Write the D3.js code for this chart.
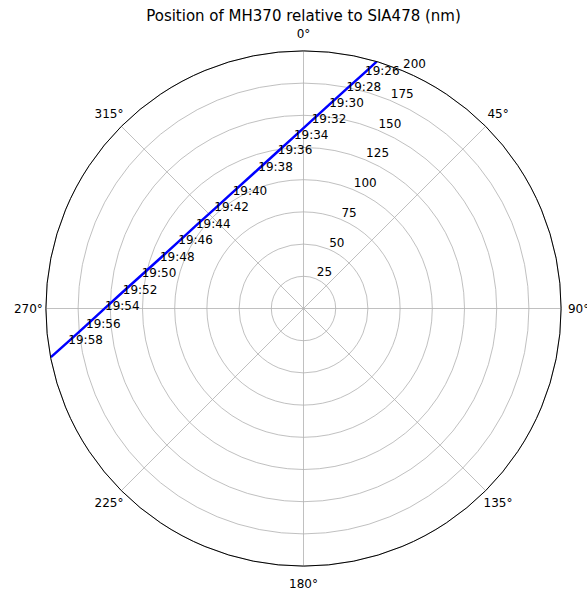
<!DOCTYPE html>
<html>
<head>
<meta charset="utf-8">
<script src="https://cdn.jsdelivr.net/npm/d3@7"></script>
<style>
  body { margin: 0; background: #fff; }
  text { font-family: "DejaVu Sans", sans-serif; fill: #000; }
</style>
</head>
<body>
<svg id="chart"></svg>
<script>
// track of MH370 relative to SIA478, bearing in degrees (clockwise from north), range in nm
const times    = [null, "19:26", "19:28", "19:30", "19:32", "19:34", "19:36", "19:38", "19:40", "19:42",
                  "19:44", "19:46", "19:48", "19:50", "19:52", "19:54", "19:56", "19:58", null];
const bearings = [16.5, 14.6, 11.1, 7.2, 2.5, 356.8, 350.7, 342.0, 328.6, 318.1,
                  307.6, 298.0, 289.2, 281.7, 275.2, 270.1, 265.5, 262.0, 259.1];
const ranges   = [199.9, 189.5, 173.8, 159.5, 146.0, 133.5, 123.5, 113.7, 105.6, 103.7,
                  105.4, 110.1, 118.0, 128.3, 140.9, 154.1, 169.4, 184.4, 199.7];

const rTicks = [25, 50, 75, 100, 125, 150, 175, 200];
const thetaTicks = [0, 45, 90, 135, 180, 225, 270, 315];
const rMax = 200;

const width = 587, height = 593;
const cx = 303.5, cy = 308.5, R = 257.6;

const svg = d3.select("#chart")
  .attr("width", width)
  .attr("height", height);

const r = d3.scaleLinear().domain([0, rMax]).range([0, R]);
const ang = d3.scaleLinear().domain([0, 360]).range([0, 2 * Math.PI]);

const g = svg.append("g")
  .attr("transform", `translate(${cx},${cy})`);

// polar point -> x,y (0 at top, clockwise)
const px = (deg, val) => r(val) * Math.sin(ang(deg));
const py = (deg, val) => -r(val) * Math.cos(ang(deg));

g.append("clipPath")
  .attr("id", "clip")
  .append("circle")
  .attr("r", r(rMax));

// grid
g.selectAll(".ring")
  .data(rTicks)
  .enter()
  .append("circle")
  .attr("class", "ring")
  .attr("r", d => r(d))
  .attr("fill", "none")
  .attr("stroke", "#b0b0b0")
  .attr("stroke-width", 0.8);

g.selectAll(".spoke")
  .data(thetaTicks)
  .enter()
  .append("line")
  .attr("class", "spoke")
  .attr("x1", 0).attr("y1", 0)
  .attr("x2", d => px(d, rMax))
  .attr("y2", d => py(d, rMax))
  .attr("stroke", "#b0b0b0")
  .attr("stroke-width", 0.8);

// track
const track = bearings.map((b, i) => ({b: b, r: ranges[i], t: times[i]}));

const line = d3.lineRadial()
  .angle(d => ang(d.b))
  .radius(d => r(d.r));

g.append("path")
  .datum(track)
  .attr("clip-path", "url(#clip)")
  .attr("d", line)
  .attr("fill", "none")
  .attr("stroke", "#0000ff")
  .attr("stroke-width", 2.5);

// outer spine
g.append("circle")
  .attr("r", r(rMax))
  .attr("fill", "none")
  .attr("stroke", "#000")
  .attr("stroke-width", 1);

// radial tick labels at 22.5 deg
g.selectAll(".rlabel")
  .data(rTicks)
  .enter()
  .append("text")
  .attr("class", "rlabel")
  .attr("x", d => px(22.5, d) + 1)
  .attr("y", d => py(22.5, d) - 2.5)
  .attr("font-size", 12)
  .text(d => d);

// angle labels
g.selectAll(".tlabel")
  .data(thetaTicks)
  .enter()
  .append("text")
  .attr("class", "tlabel")
  .attr("x", d => (R + 17.5) * Math.sin(ang(d)))
  .attr("y", d => -(R + 17.5) * Math.cos(ang(d)))
  .attr("dy", "0.35em")
  .attr("text-anchor", "middle")
  .attr("font-size", 12)
  .text(d => d + "°");

// time labels
g.selectAll(".time")
  .data(track.filter(d => d.t))
  .enter()
  .append("text")
  .attr("class", "time")
  .attr("x", d => px(d.b, d.r))
  .attr("y", d => py(d.b, d.r) - 2)
  .attr("dy", "0.35em")
  .attr("font-size", 12)
  .text(d => d.t);

svg.append("text")
  .attr("x", cx)
  .attr("y", 21)
  .attr("text-anchor", "middle")
  .attr("font-size", 15)
  .text("Position of MH370 relative to SIA478 (nm)");
</script>
</body>
</html>
